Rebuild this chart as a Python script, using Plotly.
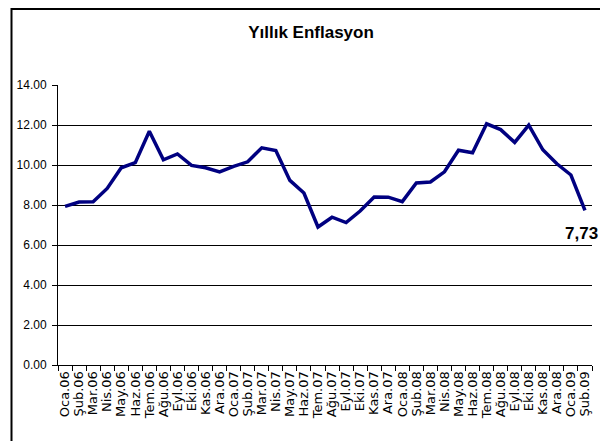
import plotly.graph_objects as go

months = ["Oca", "Şub", "Mar", "Nis", "May", "Haz", "Tem", "Ağu", "Eyl", "Eki", "Kas", "Ara"]
categories = (
    [f"{m}.06" for m in months]
    + [f"{m}.07" for m in months]
    + [f"{m}.08" for m in months]
    + ["Oca.09", "Şub.09"]
)
inflation = [
    7.93, 8.15, 8.16, 8.83, 9.86, 10.12, 11.69, 10.26, 10.55, 9.98, 9.86, 9.65,
    9.93, 10.16, 10.86, 10.72, 9.23, 8.60, 6.90, 7.39, 7.12, 7.70, 8.40, 8.39,
    8.17, 9.10, 9.15, 9.66, 10.74, 10.61, 12.06, 11.77, 11.13, 11.99, 10.76, 10.06,
    9.50, 7.73,
]
y_ticks = [0, 2, 4, 6, 8, 10, 12, 14]
y_tick_labels = ["0.00", "2.00", "4.00", "6.00", "8.00", "10.00", "12.00", "14.00"]
title_text = "Yıllık Enflasyon"
last_label = "7,73"

font_main = "Liberation Sans, Arial, sans-serif"

# the page body adds an 8px offset, so the figure is smaller and margins shifted
W, H = 600, 433
L, R, T, B = 50, 16, 77, 76
plot_w = W - L - R
plot_h = H - T - B

fig = go.Figure()
fig.add_trace(go.Scatter(
    x=categories, y=inflation, mode="lines",
    line=dict(color="#000080", width=3.5),
    hoverinfo="skip", showlegend=False,
))

fig.add_annotation(
    x=categories[-1], y=inflation[-1], text=f"<b>{last_label}</b>",
    showarrow=False, xshift=-3, yshift=-23,
    font=dict(family=font_main, size=17, color="black"),
)

# outer frame of the chart
fig.add_shape(type="rect", xref="paper", yref="paper",
              x0=(3.5 - L) / plot_w, x1=1.2, y0=-0.5, y1=(plot_h + T - 1) / plot_h,
              line=dict(color="black", width=2), fillcolor="rgba(0,0,0,0)", layer="below")

fig.update_layout(
    width=W, height=H,
    margin=dict(l=L, r=R, t=T, b=B),
    paper_bgcolor="white", plot_bgcolor="white",
    title=dict(text=f"<b>{title_text}</b>", x=303 / W, xanchor="center",
               y=1 - 24 / H, yanchor="middle", yref="container", xref="container",
               font=dict(family=font_main, size=17, color="black")),
    xaxis=dict(
        type="category", categoryorder="array", categoryarray=categories,
        range=[-0.5, len(categories) - 0.5],
        tickmode="array", tickvals=categories, ticktext=categories,
        tickangle=-90, tickson="boundaries", ticks="outside", ticklen=5,
        tickcolor="black", tickwidth=1,
        showline=True, linecolor="black", linewidth=1,
        showgrid=False, zeroline=False, automargin=False,
        tickfont=dict(family="DejaVu Sans, sans-serif", size=13, color="black"),
    ),
    yaxis=dict(
        range=[0, 14], tickvals=y_ticks, ticktext=y_tick_labels,
        ticks="outside", ticklen=5, tickcolor="black", tickwidth=1,
        ticklabelstandoff=3,
        showline=True, linecolor="black", linewidth=1,
        showgrid=True, gridcolor="black", gridwidth=1,
        zeroline=False, automargin=False,
        tickfont=dict(family=font_main, size=12, color="black"),
    ),
)

fig.write_html("out.html")
